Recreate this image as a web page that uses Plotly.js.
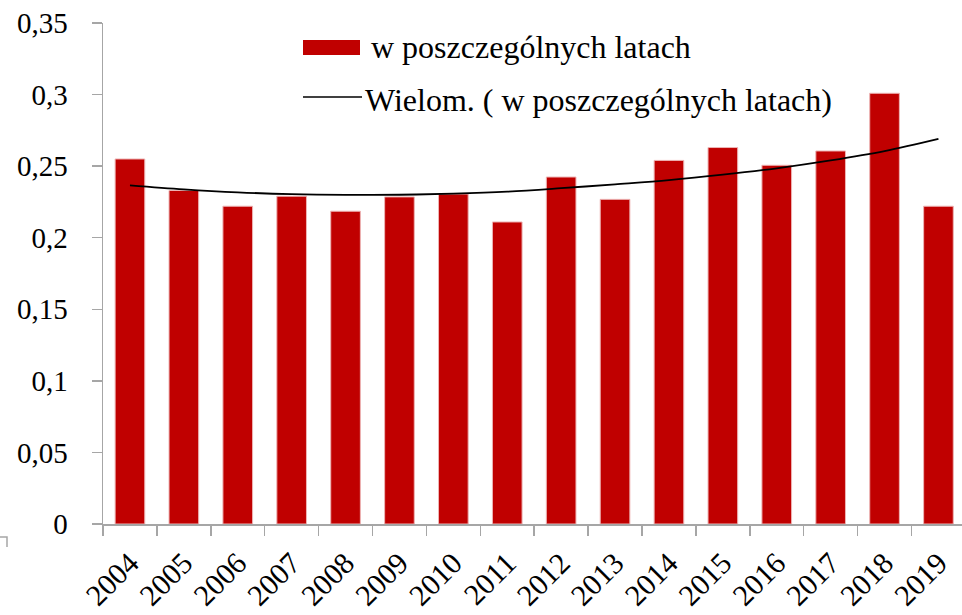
<!DOCTYPE html>
<html>
<head>
<meta charset="utf-8">
<script src="https://cdn.plot.ly/plotly-3.0.1.min.js"></script>
<style>html,body{margin:0;padding:0;background:#fff;}#chart{width:962px;height:615px;}</style>
</head>
<body>
<div id="chart"></div>
<script>
var years = ['2004','2005','2006','2007','2008','2009','2010','2011','2012','2013','2014','2015','2016','2017','2018','2019'];
var values = [0.255, 0.233, 0.222, 0.229, 0.2185, 0.2285, 0.2305, 0.211, 0.2424, 0.2268, 0.254, 0.263, 0.2506, 0.2606, 0.3009, 0.222];
var trendValues = [0.2366, 0.2338, 0.2317, 0.2304, 0.2299, 0.2300, 0.2308, 0.2322, 0.2346, 0.2373, 0.2402, 0.2440, 0.2485, 0.2540, 0.2605, 0.2690];
var yTickVals = [0, 0.05, 0.1, 0.15, 0.2, 0.25, 0.3, 0.35];
var yTickText = ['0', '0,05', '0,1', '0,15', '0,2', '0,25', '0,3', '0,35'];
var barName = 'w poszczególnych latach';
var trendName = 'Wielom. ( w poszczególnych latach)';

var FONT = '"Liberation Serif", "Times New Roman", serif';
var L = 103, R = 962, T = 23, B = 524;
function px(x){ return (x - L) / (R - L); }
function py(y){ return (B - y) / (B - T); }

var data = [
  {
    type: 'bar', x: years, y: values, name: barName,
    marker: {color: '#C00000', line: {color: '#EDB4B4', width: 1}},
    hoverinfo: 'x+y'
  },
  {
    type: 'scatter', mode: 'lines', x: years, y: trendValues, name: trendName,
    line: {color: '#000000', width: 1.8, shape: 'spline', smoothing: 1}
  }
];

var layout = {
  width: 962, height: 615,
  margin: {l: L, r: 962 - R, t: T, b: 615 - B},
  paper_bgcolor: '#ffffff', plot_bgcolor: '#ffffff',
  showlegend: false,
  bargap: 0.45,
  font: {family: FONT, size: 29, color: '#000'},
  xaxis: {
    type: 'category',
    range: [-0.5, -0.5 + (R - L) / 53.9],
    tickson: 'boundaries',
    ticks: 'outside', ticklen: 10, tickcolor: '#A6A6A6', tickwidth: 1.5,
    showline: true, linecolor: '#A6A6A6', linewidth: 1.5,
    showgrid: false, zeroline: false,
    tickangle: -45,
    tickfont: {family: FONT, size: 30, color: '#000'},
    ticklabelstandoff: 8,
    fixedrange: true
  },
  yaxis: {
    range: [0, 0.35],
    tickvals: yTickVals, ticktext: yTickText,
    ticks: 'outside', ticklen: 10, tickcolor: '#A6A6A6', tickwidth: 1.5,
    showline: true, linecolor: '#A6A6A6', linewidth: 1.5,
    showgrid: false, zeroline: false,
    tickfont: {family: FONT, size: 29, color: '#000'},
    ticklabelstandoff: 18,
    fixedrange: true
  },
  shapes: [
    {type: 'rect', xref: 'paper', yref: 'paper', x0: px(303), x1: px(360), y0: py(55), y1: py(40),
     fillcolor: '#C00000', line: {width: 0}},
    {type: 'line', xref: 'paper', yref: 'paper', x0: px(303), x1: px(362), y0: py(97), y1: py(97),
     line: {color: '#000', width: 1.5}},
    {type: 'path', xref: 'paper', yref: 'paper',
     path: 'M' + px(0) + ',' + py(537) + ' L' + px(7) + ',' + py(537) + ' L' + px(7) + ',' + py(547),
     line: {color: '#A6A6A6', width: 1.5}}
  ],
  annotations: [
    {xref: 'paper', yref: 'paper', x: px(369), y: py(47), xanchor: 'left', yanchor: 'middle',
     text: barName, showarrow: false, font: {family: FONT, size: 32, color: '#000'}},
    {xref: 'paper', yref: 'paper', x: px(363), y: py(100), xanchor: 'left', yanchor: 'middle',
     text: trendName, showarrow: false, font: {family: FONT, size: 32, color: '#000'}}
  ]
};

Plotly.newPlot('chart', data, layout, {displayModeBar: false, staticPlot: true});
</script>
</body>
</html>
